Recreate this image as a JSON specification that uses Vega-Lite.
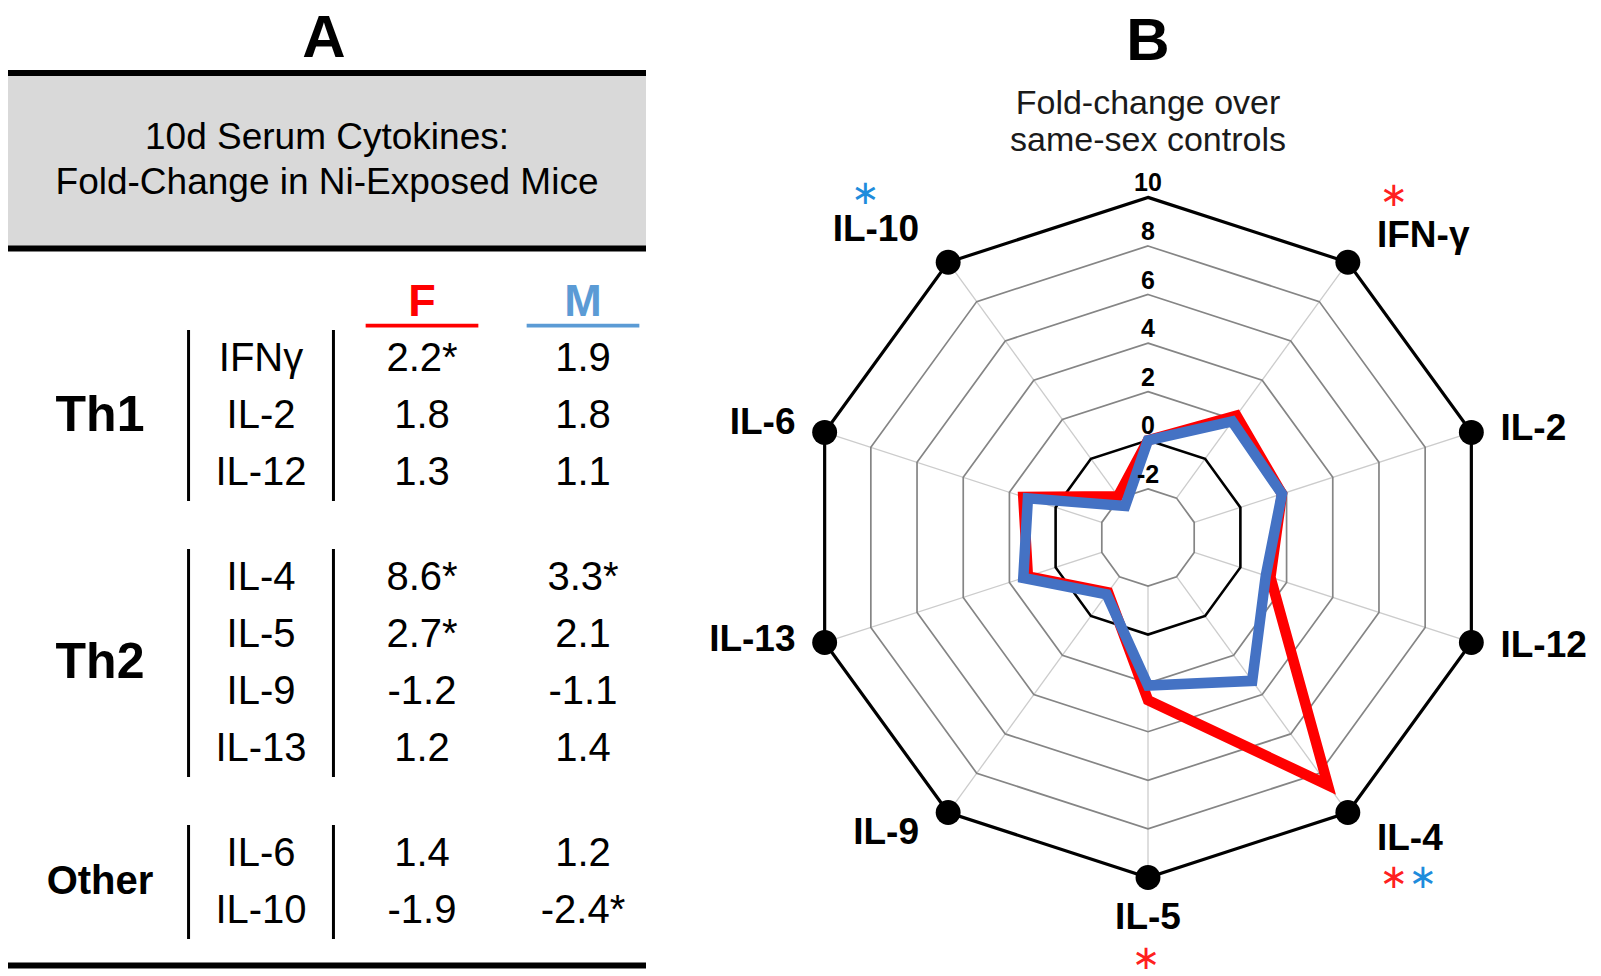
{
  "$schema": "https://vega.github.io/schema/vega-lite/v6.json",
  "padding": {"left": 5, "top": 8, "right": 0, "bottom": 0},
  "autosize": {"type": "pad"},
  "config": {
    "font": "Liberation Sans",
    "view": {"stroke": null},
    "text": {"font": "Liberation Sans", "color": "#000"},
    "title": {"font": "Liberation Sans", "color": "#000"}
  },
  "datasets": {
    "fold": [
      {"cytokine": "", "radar": "", "group": "", "sex": "F", "fold": 0, "sig": false},
      {"cytokine": "", "radar": "", "group": "", "sex": "M", "fold": 0, "sig": false},
      {"cytokine": "IFNγ", "radar": "IFN-γ", "group": "Th1", "sex": "F", "fold": 2.2, "sig": true},
      {"cytokine": "IFNγ", "radar": "IFN-γ", "group": "Th1", "sex": "M", "fold": 1.9, "sig": false},
      {"cytokine": "IL-2", "radar": "IL-2", "group": "Th1", "sex": "F", "fold": 1.8, "sig": false},
      {"cytokine": "IL-2", "radar": "IL-2", "group": "Th1", "sex": "M", "fold": 1.8, "sig": false},
      {"cytokine": "IL-12", "radar": "IL-12", "group": "Th1", "sex": "F", "fold": 1.3, "sig": false},
      {"cytokine": "IL-12", "radar": "IL-12", "group": "Th1", "sex": "M", "fold": 1.1, "sig": false},
      {"cytokine": "IL-4", "radar": "IL-4", "group": "Th2", "sex": "F", "fold": 8.6, "sig": true},
      {"cytokine": "IL-4", "radar": "IL-4", "group": "Th2", "sex": "M", "fold": 3.3, "sig": true},
      {"cytokine": "IL-5", "radar": "IL-5", "group": "Th2", "sex": "F", "fold": 2.7, "sig": true},
      {"cytokine": "IL-5", "radar": "IL-5", "group": "Th2", "sex": "M", "fold": 2.1, "sig": false},
      {"cytokine": "IL-9", "radar": "IL-9", "group": "Th2", "sex": "F", "fold": -1.2, "sig": false},
      {"cytokine": "IL-9", "radar": "IL-9", "group": "Th2", "sex": "M", "fold": -1.1, "sig": false},
      {"cytokine": "IL-13", "radar": "IL-13", "group": "Th2", "sex": "F", "fold": 1.2, "sig": false},
      {"cytokine": "IL-13", "radar": "IL-13", "group": "Th2", "sex": "M", "fold": 1.4, "sig": false},
      {"cytokine": "IL-6", "radar": "IL-6", "group": "Other", "sex": "F", "fold": 1.4, "sig": false},
      {"cytokine": "IL-6", "radar": "IL-6", "group": "Other", "sex": "M", "fold": 1.2, "sig": false},
      {"cytokine": "IL-10", "radar": "IL-10", "group": "Other", "sex": "F", "fold": -1.9, "sig": false},
      {"cytokine": "IL-10", "radar": "IL-10", "group": "Other", "sex": "M", "fold": -2.4, "sig": true}
    ],
    "grid": [{"key": "grid", "ring": [-2, 0, 2, 4, 6, 8, 10]}],
    "heading": [{"key": "title", "heading": "10d Serum Cytokines:\nFold-Change in Ni-Exposed Mice", "radarTitle": "Fold-change over\nsame-sex controls"}]
  },
  "spacing": 23,
  "hconcat": [
    {
      "title": {"text": "A", "fontSize": 60, "fontWeight": "bold", "anchor": "middle", "dx": -16, "offset": 0.5},
      "spacing": 0,
      "vconcat": [
        {
          "data": {"name": "heading"},
          "width": 638,
          "height": 175.5,
          "view": {"fill": "#d9d9d9", "stroke": null},
          "layer": [
            {
              "mark": {"type": "rule", "strokeWidth": 6, "color": "#000"},
              "encoding": {"y": {"datum": 0, "type": "quantitative", "scale": {"domain": [0, 1]}, "axis": null}}
            },
            {
              "mark": {"type": "rule", "strokeWidth": 6, "color": "#000"},
              "encoding": {"y": {"datum": 1, "type": "quantitative", "scale": {"domain": [0, 1]}, "axis": null}}
            },
            {
              "mark": {"type": "text", "fontSize": 37, "lineBreak": "\n", "lineHeight": 45, "baseline": "middle", "align": "center", "dy": -22.5},
              "encoding": {
                "text": {"field": "heading"},
                "y": {"datum": 0.5, "type": "quantitative", "scale": {"domain": [0, 1]}, "axis": null}
              }
            }
          ]
        },
        {
          "data": {"name": "fold"},
          "transform": [
            {"filter": "datum.group !== ''"},
            {"aggregate": [{"op": "count", "as": "n"}], "groupby": ["sex"]}
          ],
          "width": 667,
          "height": 75.5,
          "encoding": {
            "x": {"field": "sex", "type": "nominal", "scale": {"type": "band", "domain": ["group", "cytokine", "F", "M"], "paddingInner": 0.3, "paddingOuter": 0.2214}, "axis": null},
            "color": {"field": "sex", "type": "nominal", "scale": {"domain": ["F", "M"], "range": ["#ff0000", "#5b9bd5"]}, "legend": null}
          },
          "layer": [
            {
              "mark": {"type": "bar"},
              "encoding": {
                "y": {"datum": 0, "type": "quantitative", "scale": {"domain": [0, 1]}, "axis": null},
                "y2": {"datum": 0.05}
              }
            },
            {
              "mark": {"type": "text", "fontSize": 45, "fontWeight": "bold", "baseline": "alphabetic", "align": "center", "dy": -12},
              "encoding": {
                "text": {"field": "sex"},
                "y": {"datum": 0, "type": "quantitative", "scale": {"domain": [0, 1]}, "axis": null}
              }
            }
          ]
        },
        {
          "spacing": 48,
          "bounds": "flush",
          "vconcat": [
            {
              "data": {"name": "fold"},
              "transform": [
                {"filter": "datum.group === 'Th1'"},
                {"calculate": "toString(datum.fold) + (datum.sig ? '*' : '')", "as": "label"}
              ],
              "width": 667,
              "height": {"step": 57},
              "layer": [
                {
                  "transform": [{"filter": "datum.sex === 'F'"}],
                  "mark": {"type": "text", "fontSize": 40, "align": "center", "baseline": "middle"},
                  "encoding": {
                    "x": {"datum": "cytokine", "type": "nominal", "scale": {"type": "band", "domain": ["group", "cytokine", "F", "M"], "paddingInner": 0, "paddingOuter": 0.0714}, "axis": null},
                    "y": {"field": "cytokine", "type": "nominal", "sort": null, "scale": {"type": "band", "paddingInner": 0, "paddingOuter": 0}, "axis": null},
                    "text": {"field": "cytokine"}
                  }
                },
                {
                  "mark": {"type": "text", "fontSize": 40, "align": "center", "baseline": "middle"},
                  "encoding": {
                    "x": {"field": "sex", "type": "nominal", "scale": {"type": "band", "domain": ["group", "cytokine", "F", "M"], "paddingInner": 0, "paddingOuter": 0.0714}, "axis": null},
                    "y": {"field": "cytokine", "type": "nominal", "sort": null, "scale": {"type": "band", "paddingInner": 0, "paddingOuter": 0}, "axis": null},
                    "text": {"field": "label"}
                  }
                },
                {
                  "transform": [{"aggregate": [{"op": "count", "as": "n"}], "groupby": ["group"]}],
                  "mark": {"type": "text", "fontWeight": "bold", "align": "center", "baseline": "middle", "fontSize": 50},
                  "encoding": {
                    "x": {"datum": "group", "type": "nominal", "scale": {"type": "band", "domain": ["group", "cytokine", "F", "M"], "paddingInner": 0, "paddingOuter": 0.0714}, "axis": null},
                    "text": {"field": "group"}
                  }
                },
                {
                  "transform": [{"aggregate": [{"op": "count", "as": "n"}], "groupby": ["group"]}],
                  "mark": {"type": "rule", "strokeWidth": 3, "color": "#000"},
                  "encoding": {
                    "x": {"datum": "group", "type": "nominal", "bandPosition": 1.05, "scale": {"type": "band", "domain": ["group", "cytokine", "F", "M"], "paddingInner": 0, "paddingOuter": 0.0714}, "axis": null}
                  }
                },
                {
                  "transform": [{"aggregate": [{"op": "count", "as": "n"}], "groupby": ["group"]}],
                  "mark": {"type": "rule", "strokeWidth": 3, "color": "#000"},
                  "encoding": {
                    "x": {"datum": "cytokine", "type": "nominal", "bandPosition": 0.95, "scale": {"type": "band", "domain": ["group", "cytokine", "F", "M"], "paddingInner": 0, "paddingOuter": 0.0714}, "axis": null}
                  }
                }
              ]
            },
            {
              "data": {"name": "fold"},
              "transform": [
                {"filter": "datum.group === 'Th2'"},
                {"calculate": "toString(datum.fold) + (datum.sig ? '*' : '')", "as": "label"}
              ],
              "width": 667,
              "height": {"step": 57},
              "layer": [
                {
                  "transform": [{"filter": "datum.sex === 'F'"}],
                  "mark": {"type": "text", "fontSize": 40, "align": "center", "baseline": "middle"},
                  "encoding": {
                    "x": {"datum": "cytokine", "type": "nominal", "scale": {"type": "band", "domain": ["group", "cytokine", "F", "M"], "paddingInner": 0, "paddingOuter": 0.0714}, "axis": null},
                    "y": {"field": "cytokine", "type": "nominal", "sort": null, "scale": {"type": "band", "paddingInner": 0, "paddingOuter": 0}, "axis": null},
                    "text": {"field": "cytokine"}
                  }
                },
                {
                  "mark": {"type": "text", "fontSize": 40, "align": "center", "baseline": "middle"},
                  "encoding": {
                    "x": {"field": "sex", "type": "nominal", "scale": {"type": "band", "domain": ["group", "cytokine", "F", "M"], "paddingInner": 0, "paddingOuter": 0.0714}, "axis": null},
                    "y": {"field": "cytokine", "type": "nominal", "sort": null, "scale": {"type": "band", "paddingInner": 0, "paddingOuter": 0}, "axis": null},
                    "text": {"field": "label"}
                  }
                },
                {
                  "transform": [{"aggregate": [{"op": "count", "as": "n"}], "groupby": ["group"]}],
                  "mark": {"type": "text", "fontWeight": "bold", "align": "center", "baseline": "middle", "fontSize": 50},
                  "encoding": {
                    "x": {"datum": "group", "type": "nominal", "scale": {"type": "band", "domain": ["group", "cytokine", "F", "M"], "paddingInner": 0, "paddingOuter": 0.0714}, "axis": null},
                    "text": {"field": "group"}
                  }
                },
                {
                  "transform": [{"aggregate": [{"op": "count", "as": "n"}], "groupby": ["group"]}],
                  "mark": {"type": "rule", "strokeWidth": 3, "color": "#000"},
                  "encoding": {
                    "x": {"datum": "group", "type": "nominal", "bandPosition": 1.05, "scale": {"type": "band", "domain": ["group", "cytokine", "F", "M"], "paddingInner": 0, "paddingOuter": 0.0714}, "axis": null}
                  }
                },
                {
                  "transform": [{"aggregate": [{"op": "count", "as": "n"}], "groupby": ["group"]}],
                  "mark": {"type": "rule", "strokeWidth": 3, "color": "#000"},
                  "encoding": {
                    "x": {"datum": "cytokine", "type": "nominal", "bandPosition": 0.95, "scale": {"type": "band", "domain": ["group", "cytokine", "F", "M"], "paddingInner": 0, "paddingOuter": 0.0714}, "axis": null}
                  }
                }
              ]
            },
            {
              "data": {"name": "fold"},
              "transform": [
                {"filter": "datum.group === 'Other'"},
                {"calculate": "toString(datum.fold) + (datum.sig ? '*' : '')", "as": "label"}
              ],
              "width": 667,
              "height": {"step": 57},
              "layer": [
                {
                  "transform": [{"filter": "datum.sex === 'F'"}],
                  "mark": {"type": "text", "fontSize": 40, "align": "center", "baseline": "middle"},
                  "encoding": {
                    "x": {"datum": "cytokine", "type": "nominal", "scale": {"type": "band", "domain": ["group", "cytokine", "F", "M"], "paddingInner": 0, "paddingOuter": 0.0714}, "axis": null},
                    "y": {"field": "cytokine", "type": "nominal", "sort": null, "scale": {"type": "band", "paddingInner": 0, "paddingOuter": 0}, "axis": null},
                    "text": {"field": "cytokine"}
                  }
                },
                {
                  "mark": {"type": "text", "fontSize": 40, "align": "center", "baseline": "middle"},
                  "encoding": {
                    "x": {"field": "sex", "type": "nominal", "scale": {"type": "band", "domain": ["group", "cytokine", "F", "M"], "paddingInner": 0, "paddingOuter": 0.0714}, "axis": null},
                    "y": {"field": "cytokine", "type": "nominal", "sort": null, "scale": {"type": "band", "paddingInner": 0, "paddingOuter": 0}, "axis": null},
                    "text": {"field": "label"}
                  }
                },
                {
                  "transform": [{"aggregate": [{"op": "count", "as": "n"}], "groupby": ["group"]}],
                  "mark": {"type": "text", "fontWeight": "bold", "align": "center", "baseline": "middle", "fontSize": 40},
                  "encoding": {
                    "x": {"datum": "group", "type": "nominal", "scale": {"type": "band", "domain": ["group", "cytokine", "F", "M"], "paddingInner": 0, "paddingOuter": 0.0714}, "axis": null},
                    "text": {"field": "group"}
                  }
                },
                {
                  "transform": [{"aggregate": [{"op": "count", "as": "n"}], "groupby": ["group"]}],
                  "mark": {"type": "rule", "strokeWidth": 3, "color": "#000"},
                  "encoding": {
                    "x": {"datum": "group", "type": "nominal", "bandPosition": 1.05, "scale": {"type": "band", "domain": ["group", "cytokine", "F", "M"], "paddingInner": 0, "paddingOuter": 0.0714}, "axis": null}
                  }
                },
                {
                  "transform": [{"aggregate": [{"op": "count", "as": "n"}], "groupby": ["group"]}],
                  "mark": {"type": "rule", "strokeWidth": 3, "color": "#000"},
                  "encoding": {
                    "x": {"datum": "cytokine", "type": "nominal", "bandPosition": 0.95, "scale": {"type": "band", "domain": ["group", "cytokine", "F", "M"], "paddingInner": 0, "paddingOuter": 0.0714}, "axis": null}
                  }
                }
              ]
            }
          ]
        },
        {
          "data": {"name": "heading"},
          "width": 638,
          "height": 24.5,
          "mark": {"type": "rule", "strokeWidth": 6, "color": "#000"},
          "encoding": {"y": {"datum": 0, "type": "quantitative", "scale": {"domain": [0, 1]}, "axis": null}}
        }
      ]
    },
    {
      "title": {"text": "B", "fontSize": 60, "fontWeight": "bold", "offset": 0.5, "anchor": "middle"},
      "data": {"name": "fold"},
      "width": 900,
      "height": 888.5,
      "transform": [
        {"window": [{"op": "row_number", "as": "idx"}], "groupby": ["sex"]},
        {"calculate": "(datum.idx - 1) * PI / 5", "as": "theta"}
      ],
      "encoding": {
        "x": {"field": "px", "type": "quantitative", "scale": {"domain": [-18.53, 18.53], "nice": false, "zero": false}, "axis": null},
        "y": {"field": "py", "type": "quantitative", "scale": {"domain": [-17.46, 19.12], "nice": false, "zero": false}, "axis": null}
      },
      "layer": [
        {
          "transform": [
            {"filter": "datum.sex === 'F' && datum.idx === 1"},
            {"calculate": "'title'", "as": "key"},
            {"lookup": "key", "from": {"data": {"name": "heading"}, "key": "key", "fields": ["radarTitle"]}},
            {"calculate": "0", "as": "px"},
            {"calculate": "17.85", "as": "py"}
          ],
          "mark": {"type": "text", "fontSize": 34, "lineBreak": "\n", "lineHeight": 37, "align": "center", "baseline": "middle", "color": "#1a1a1a"},
          "encoding": {"text": {"field": "radarTitle"}}
        },
        {
          "transform": [
            {"filter": "datum.sex === 'F' && datum.idx > 1"},
            {"calculate": "(-2 + 4) * sin(datum.theta)", "as": "px"},
            {"calculate": "(-2 + 4) * cos(datum.theta)", "as": "py"},
            {"calculate": "(10 + 4) * sin(datum.theta)", "as": "qx"},
            {"calculate": "(10 + 4) * cos(datum.theta)", "as": "qy"}
          ],
          "mark": {"type": "rule", "color": "#cccccc", "strokeWidth": 1.3},
          "encoding": {"x2": {"field": "qx"}, "y2": {"field": "qy"}}
        },
        {
          "transform": [
            {"filter": "datum.sex === 'F'"},
            {"calculate": "'grid'", "as": "key"},
            {"lookup": "key", "from": {"data": {"name": "grid"}, "key": "key", "fields": ["ring"]}},
            {"flatten": ["ring"]},
            {"filter": "datum.ring !== 0 && datum.ring !== 10"},
            {"calculate": "(datum.ring + 4) * sin(datum.theta)", "as": "px"},
            {"calculate": "(datum.ring + 4) * cos(datum.theta)", "as": "py"}
          ],
          "mark": {"type": "line", "interpolate": "linear-closed", "color": "#858585", "strokeWidth": 1.7},
          "encoding": {"detail": {"field": "ring", "type": "nominal"}, "order": {"field": "idx"}}
        },
        {
          "transform": [
            {"filter": "datum.sex === 'F'"},
            {"calculate": "'grid'", "as": "key"},
            {"lookup": "key", "from": {"data": {"name": "grid"}, "key": "key", "fields": ["ring"]}},
            {"flatten": ["ring"]},
            {"filter": "datum.ring === 0 || datum.ring === 10"},
            {"calculate": "(datum.ring + 4) * sin(datum.theta)", "as": "px"},
            {"calculate": "(datum.ring + 4) * cos(datum.theta)", "as": "py"}
          ],
          "mark": {"type": "line", "interpolate": "linear-closed", "color": "#000"},
          "encoding": {
            "detail": {"field": "ring", "type": "nominal"},
            "order": {"field": "idx"},
            "strokeWidth": {"condition": {"test": "datum.ring === 10", "value": 3.2}, "value": 2.6}
          }
        },
        {
          "transform": [
            {"calculate": "(datum.fold + 4) * sin(datum.theta)", "as": "px"},
            {"calculate": "(datum.fold + 4) * cos(datum.theta)", "as": "py"}
          ],
          "mark": {"type": "line", "interpolate": "linear-closed", "strokeWidth": 10.5, "strokeJoin": "miter", "strokeMiterLimit": 4},
          "encoding": {
            "stroke": {"field": "sex", "type": "nominal", "scale": {"domain": ["F", "M"], "range": ["#ff0000", "#4472c4"]}, "legend": null},
            "order": {"field": "idx"}
          }
        },
        {
          "transform": [
            {"filter": "datum.sex === 'F' && datum.idx > 1"},
            {"calculate": "(10 + 4) * sin(datum.theta)", "as": "px"},
            {"calculate": "(10 + 4) * cos(datum.theta)", "as": "py"}
          ],
          "mark": {"type": "point", "filled": true, "color": "#000", "size": 620, "opacity": 1}
        },
        {
          "transform": [
            {"filter": "datum.sex === 'F' && datum.idx === 1"},
            {"calculate": "'grid'", "as": "key"},
            {"lookup": "key", "from": {"data": {"name": "grid"}, "key": "key", "fields": ["ring"]}},
            {"flatten": ["ring"]},
            {"calculate": "(datum.ring + 4) * sin(datum.theta)", "as": "px"},
            {"calculate": "(datum.ring + 4) * cos(datum.theta)", "as": "py"},
            {"calculate": "toString(datum.ring)", "as": "ringLabel"}
          ],
          "mark": {"type": "text", "fontSize": 25, "fontWeight": "bold", "align": "center", "baseline": "alphabetic", "dy": -6},
          "encoding": {"text": {"field": "ringLabel"}}
        },
        {
          "transform": [
            {"filter": "datum.sex === 'F' && datum.idx > 1 && sin(datum.theta) > 0.1"},
            {"calculate": "14 * sin(datum.theta) + 1.2", "as": "px"},
            {"calculate": "14 * cos(datum.theta) + 1.65 * cos(datum.theta) * abs(cos(datum.theta))", "as": "py"}
          ],
          "mark": {"type": "text", "fontSize": 37, "fontWeight": "bold", "align": "left", "baseline": "middle"},
          "encoding": {"text": {"field": "radar"}}
        },
        {
          "transform": [
            {"filter": "datum.sex === 'F' && datum.idx > 1 && sin(datum.theta) < -0.1"},
            {"calculate": "14 * sin(datum.theta) - 1.2", "as": "px"},
            {"calculate": "14 * cos(datum.theta) + 1.65 * cos(datum.theta) * abs(cos(datum.theta))", "as": "py"}
          ],
          "mark": {"type": "text", "fontSize": 37, "fontWeight": "bold", "align": "right", "baseline": "middle", "dy": -6},
          "encoding": {"text": {"field": "radar"}}
        },
        {
          "transform": [
            {"filter": "datum.sex === 'F' && datum.idx > 1 && abs(sin(datum.theta)) <= 0.1"},
            {"calculate": "14 * sin(datum.theta)", "as": "px"},
            {"calculate": "14 * cos(datum.theta) + 1.65 * cos(datum.theta) * abs(cos(datum.theta))", "as": "py"}
          ],
          "mark": {"type": "text", "fontSize": 37, "fontWeight": "bold", "align": "center", "baseline": "middle"},
          "encoding": {"text": {"field": "radar"}}
        },
        {
          "transform": [
            {"filter": "datum.sig && datum.sex === 'F'"},
            {"calculate": "17.35 * sin(datum.theta)", "as": "px"},
            {"calculate": "17.35 * cos(datum.theta)", "as": "py"}
          ],
          "mark": {"type": "text", "font": "DejaVu Sans", "fontSize": 34, "align": "center", "baseline": "middle", "dx": -2, "color": "#ff2020"},
          "encoding": {"text": {"value": "∗"}}
        },
        {
          "transform": [
            {"filter": "datum.sig && datum.sex === 'M' && sin(datum.theta) > 0"},
            {"calculate": "17.35 * sin(datum.theta)", "as": "px"},
            {"calculate": "17.35 * cos(datum.theta)", "as": "py"}
          ],
          "mark": {"type": "text", "font": "DejaVu Sans", "fontSize": 34, "align": "center", "baseline": "middle", "dx": 27, "color": "#1e8cdc"},
          "encoding": {"text": {"value": "∗"}}
        },
        {
          "transform": [
            {"filter": "datum.sig && datum.sex === 'M' && sin(datum.theta) < 0"},
            {"calculate": "17.5 * sin(datum.theta)", "as": "px"},
            {"calculate": "17.5 * cos(datum.theta)", "as": "py"}
          ],
          "mark": {"type": "text", "font": "DejaVu Sans", "fontSize": 34, "align": "center", "baseline": "middle", "dx": -33, "color": "#1e8cdc"},
          "encoding": {"text": {"value": "∗"}}
        }
      ]
    }
  ]
}
